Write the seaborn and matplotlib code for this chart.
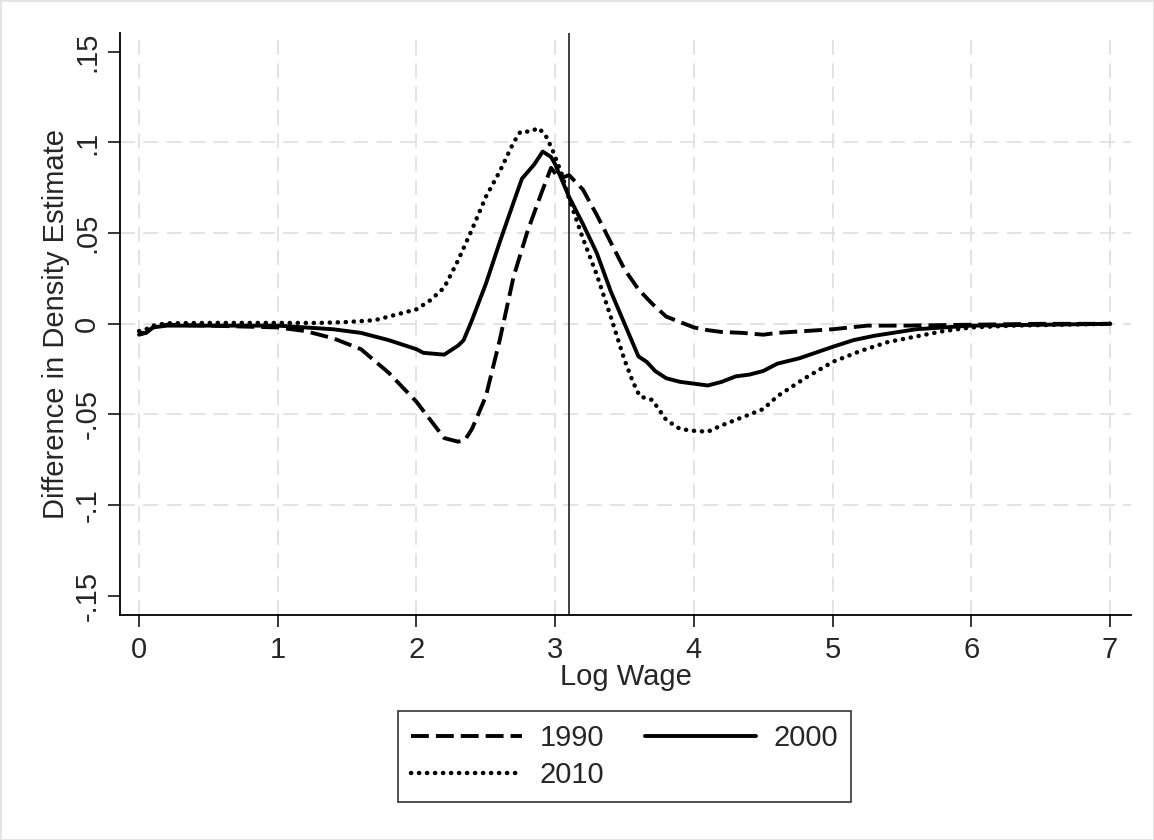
import matplotlib
matplotlib.use("Agg")
import matplotlib.pyplot as plt
import seaborn as sns

# values
x_1990 = [0, 0.05, 0.1, 0.2, 0.5, 1.0, 1.2, 1.4, 1.6, 1.8, 2.0, 2.1, 2.2, 2.3, 2.35,
          2.4, 2.5, 2.6, 2.7, 2.8, 2.9, 2.97, 3.03, 3.1, 3.2, 3.3, 3.4, 3.5, 3.6,
          3.7, 3.8, 3.9, 4.0, 4.1, 4.2, 4.35, 4.5, 4.6, 4.8, 5.0, 5.25, 5.5, 6.0, 6.5, 7.0]
y_1990 = [-0.005, -0.005, -0.002, -0.0005, -0.001, -0.002, -0.004, -0.008, -0.014, -0.027,
          -0.043, -0.053, -0.063, -0.065, -0.064, -0.058, -0.040, -0.009, 0.026, 0.051,
          0.072, 0.086, 0.080, 0.082, 0.074, 0.060, 0.045, 0.030, 0.019, 0.011, 0.004,
          0.001, -0.002, -0.0035, -0.0045, -0.005, -0.006, -0.005, -0.004, -0.003,
          -0.001, -0.001, -0.0005, 0.0, 0.0]

x_2000 = [0, 0.05, 0.1, 0.2, 0.5, 1.0, 1.2, 1.4, 1.6, 1.8, 2.0, 2.05, 2.2, 2.3, 2.34,
          2.4, 2.5, 2.6, 2.7, 2.76, 2.85, 2.91, 2.97, 3.0, 3.1, 3.2, 3.3, 3.4, 3.5,
          3.6, 3.66, 3.72, 3.8, 3.9, 4.0, 4.1, 4.2, 4.3, 4.4, 4.5, 4.6, 4.76, 5.0,
          5.15, 5.3, 5.6, 5.8, 6.0, 6.5, 7.0]
y_2000 = [-0.006, -0.005, -0.002, -0.001, -0.001, -0.001, -0.002, -0.003, -0.005, -0.009,
          -0.014, -0.016, -0.017, -0.012, -0.009, 0.002, 0.022, 0.045, 0.067, 0.080,
          0.088, 0.095, 0.092, 0.088, 0.070, 0.055, 0.039, 0.018, 0.000, -0.018, -0.021,
          -0.026, -0.030, -0.032, -0.033, -0.034, -0.032, -0.029, -0.028, -0.026, -0.022,
          -0.019, -0.0127, -0.009, -0.0066, -0.003, -0.002, -0.001, -0.0005, 0.0]

x_2010 = [0, 0.05, 0.1, 0.2, 0.5, 1.0, 1.3, 1.5, 1.7, 1.9, 2.0, 2.1, 2.2, 2.3, 2.4,
          2.5, 2.6, 2.7, 2.75, 2.82, 2.88, 2.93, 2.98, 3.05, 3.1, 3.2, 3.3, 3.4, 3.5,
          3.56, 3.61, 3.7, 3.8, 3.9, 4.0, 4.1, 4.2, 4.3, 4.4, 4.5, 4.6, 4.8, 5.0, 5.2,
          5.4, 5.6, 5.8, 6.0, 6.3, 7.0]
y_2010 = [-0.004, -0.003, -0.001, 0.0003, 0.0005, 0.0005, 0.0005, 0.001, 0.002, 0.006,
          0.008, 0.013, 0.020, 0.035, 0.052, 0.070, 0.084, 0.100, 0.106, 0.106, 0.108,
          0.104, 0.096, 0.082, 0.069, 0.047, 0.027, 0.004, -0.020, -0.032, -0.040,
          -0.042, -0.053, -0.058, -0.059, -0.0595, -0.056, -0.053, -0.050, -0.047,
          -0.040, -0.030, -0.021, -0.015, -0.010, -0.007, -0.004, -0.002, -0.001, 0.0]

x_ticks = [0, 1, 2, 3, 4, 5, 6, 7]
y_ticks = [-0.15, -0.1, -0.05, 0, 0.05, 0.1, 0.15]
y_tick_labels = ["-.15", "-.1", "-.05", "0", ".05", ".1", ".15"]
cutoff = 3.1

sns.set_style("ticks")
plt.rcParams["font.family"] = ["Liberation Sans", "DejaVu Sans"]

fig = plt.figure(figsize=(11.54, 8.4), dpi=100, edgecolor="#e4e4e4", linewidth=2)
ax = fig.add_axes([0.104, 0.268, 0.876, 0.693])

# grid (Stata-like, no lines at the axis extremes)
for xv in x_ticks:
    ax.axvline(xv, color="#dedede", lw=1.2, ls=(0, (9, 5)), zorder=0)
for yv in y_ticks[1:-1]:
    ax.axhline(yv, color="#dedede", lw=1.2, ls=(0, (9, 5)), zorder=0)

sns.lineplot(x=x_1990, y=y_1990, ax=ax, color="black", linewidth=2.8, label="1990")
ax.lines[-1].set_dashes((4.6, 1.8))
sns.lineplot(x=x_2000, y=y_2000, ax=ax, color="black", linewidth=2.8, label="2000")
sns.lineplot(x=x_2010, y=y_2010, ax=ax, color="black", linewidth=3.2, label="2010")
ax.lines[-1].set_dashes((0.05, 1.75))
ax.lines[-1].set_dash_capstyle("round")

ax.axvline(cutoff, color="#404040", lw=1.4, zorder=1)

ax.set_xlim(-0.137, 7.15)
ax.set_ylim(-0.1605, 0.1605)
ax.set_xticks(x_ticks)
ax.set_xticklabels([str(v) for v in x_ticks])
ax.set_yticks(y_ticks)
ax.set_yticklabels(y_tick_labels, rotation=90, va="center")
ax.tick_params(axis="both", length=8.5, width=1.1, labelsize=21, color="black")
ax.tick_params(axis="y", pad=5)
ax.tick_params(axis="x", pad=7)
ax.set_xlabel("Log Wage", fontsize=21, labelpad=-1)
ax.set_ylabel("Difference in Density Estimate", fontsize=21, labelpad=2)

sns.despine(ax=ax)
for s in ["left", "bottom"]:
    ax.spines[s].set_linewidth(1.3)
    ax.spines[s].set_color("black")

handles, labels = ax.get_legend_handles_labels()
ax.get_legend().remove()
order = [0, 2, 1]
leg = fig.legend([handles[i] for i in order], [labels[i] for i in order],
                 loc="center", bbox_to_anchor=(0.541, 0.0994), ncol=2,
                 fontsize=21, handlelength=3.8, handletextpad=0.6,
                 columnspacing=1.4, frameon=True, fancybox=False,
                 edgecolor="black", borderpad=0.45, labelspacing=0.3)
leg.get_frame().set_linewidth(1.2)

fig.savefig("out.png", dpi=100, edgecolor=fig.get_edgecolor())
